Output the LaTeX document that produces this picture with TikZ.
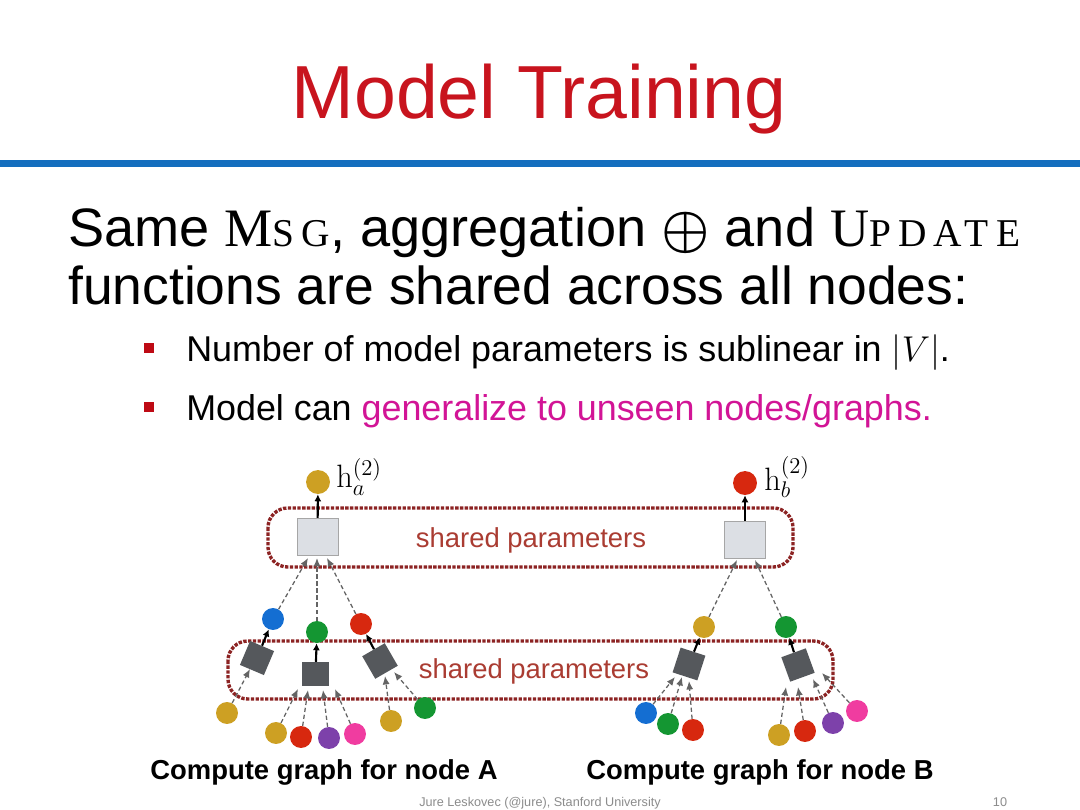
\documentclass[tikz,border=0pt]{standalone}
\usepackage{fix-cm}
\usepackage[no-math]{fontspec}
\setmainfont{Liberation Sans}
\newfontfamily\lmrsp[LetterSpace=18]{Liberation Serif}
\usetikzlibrary{arrows.meta,calc}
\definecolor{titlered}{RGB}{200,20,30}
\definecolor{blueline}{RGB}{20,110,190}
\definecolor{bullred}{RGB}{190,10,20}
\definecolor{magentatxt}{RGB}{210,20,150}
\definecolor{cgold}{RGB}{205,160,35}
\definecolor{cblue}{RGB}{20,110,210}
\definecolor{cgreen}{RGB}{20,150,50}
\definecolor{cred}{RGB}{215,40,15}
\definecolor{cpurple}{RGB}{125,65,170}
\definecolor{cpink}{RGB}{240,60,160}
\definecolor{boxgray}{RGB}{220,223,228}
\definecolor{darkbox}{RGB}{85,88,92}
\definecolor{sharedred}{RGB}{140,35,35}
\definecolor{labelred}{RGB}{170,60,50}
\definecolor{arrowgray}{RGB}{100,100,100}
\definecolor{footgray}{RGB}{140,140,140}
\begin{document}
\begin{tikzpicture}[x=0.025cm,y=-0.025cm,
  dot/.style={circle,inner sep=0pt,minimum size=15.6pt},
  topdot/.style={circle,inner sep=0pt,minimum size=17pt},
  updbox/.style={draw=gray!70,fill=boxgray,minimum width=29pt,minimum height=26pt,inner sep=0pt},
  aggbox/.style={fill=darkbox,minimum size=18.5pt,inner sep=0pt},
  msg/.style={densely dashed,draw=arrowgray,line width=0.9pt,-{Latex[length=6pt,width=5pt]}},
  updarrow/.style={line width=1.5pt,-{Latex[length=5pt,width=5pt]}},
  shared/.style={draw=sharedred,densely dotted,line width=2.4pt,rounded corners=14pt},
  lbl/.style={text=labelred,font=\fontsize{19.5}{20}\selectfont},
  bullet/.style={fill=bullred,minimum size=7.5pt,inner sep=0pt},
  hlabel/.style={anchor=west,inner sep=0pt,font=\fontsize{23}{23}\selectfont},
]
\useasboundingbox (0,0) rectangle (1080,810);
\fill[white] (0,0) rectangle (1080,810);

% title
\node[anchor=base,text=titlered,font=\fontsize{53.5}{54}\selectfont] (title) at (539,118) {Model Training};
\fill[blueline] (0,159.5) rectangle (1080,166.5);

% body text
\node[anchor=base west,inner sep=0pt,font=\fontsize{38.5}{39}\selectfont] (l1) at (68,246)
  {Same {\lmrsp M\fontsize{28}{28}\selectfont SG}, aggregation {\boldmath$\oplus$} and {\lmrsp U\fontsize{28}{28}\selectfont PDATE}};
\node[anchor=base west,inner sep=0pt,font=\fontsize{38}{38}\selectfont] (l2) at (68,304)
  {functions are shared across all nodes:};
\node[bullet] (b1) at (149,348) {};
\node[anchor=base west,inner sep=0pt,font=\fontsize{25.5}{26}\selectfont] (t1) at (186,361)
  {Number of model parameters is sublinear in $|V|$.};
\node[bullet] (b2) at (149,407) {};
\node[anchor=base west,inner sep=0pt,font=\fontsize{25.5}{26}\selectfont] (t2) at (186,420)
  {Model can \textcolor{magentatxt}{generalize to unseen nodes/graphs.}};

% shared parameter frames
\draw[shared] (268,508) rectangle (793,567);
\draw[shared] (228,641) rectangle (833,699);
\node[lbl] (sp1) at (531,540) {shared parameters};
\node[lbl] (sp2) at (534,671) {shared parameters};

% ---------- tree A ----------
\node[topdot,fill=cgold] (aTop) at (318,482) {};
\node[hlabel] (ha) at (336,477) {$\mathrm{h}_a^{(2)}$};
\node[updbox] (aUpd) at (317.5,536.5) {};
\draw[updarrow] (aUpd) -- (aTop);

\node[dot,fill=cblue] (aBlue) at (273,619) {};
\node[dot,fill=cgreen] (aGreen) at (317,632) {};
\node[dot,fill=cred] (aRed) at (361,624) {};
\coordinate (aU1) at (308,558);
\coordinate (aU2) at (317,558);
\coordinate (aU3) at (327,558);
\draw[msg] (aBlue) -- (aU1);
\draw[msg] (aGreen) -- (aU2);
\draw[msg] (aRed) -- (aU3);

\node[aggbox,rotate=-23] (aS1) at (257,658) {};
\node[aggbox,minimum width=19pt,minimum height=17pt] (aS2) at (315.5,674) {};
\node[aggbox,rotate=30] (aS3) at (380,661) {};
\draw[updarrow] (aS1) -- (aBlue);
\draw[updarrow] (aS2) -- (aGreen);
\draw[updarrow] (aS3) -- (aRed);

\node[dot,fill=cgold] (aL1) at (227,713) {};
\node[dot,fill=cgold] (aL2) at (276,733) {};
\node[dot,fill=cred] (aL3) at (301,737) {};
\node[dot,fill=cpurple] (aL4) at (329,738) {};
\node[dot,fill=cpink] (aL5) at (355,734) {};
\node[dot,fill=cgold] (aL6) at (391,721) {};
\node[dot,fill=cgreen] (aL7) at (425,708) {};
\coordinate (aE1) at (250,669);
\coordinate (aE2) at (298,689);
\coordinate (aE3) at (308,690);
\coordinate (aE4) at (323,690);
\coordinate (aE5) at (335,689);
\coordinate (aE6) at (385,676);
\coordinate (aE7) at (394,672);
\draw[msg] (aL1) -- (aE1);
\draw[msg] (aL2) -- (aE2);
\draw[msg] (aL3) -- (aE3);
\draw[msg] (aL4) -- (aE4);
\draw[msg] (aL5) -- (aE5);
\draw[msg] (aL6) -- (aE6);
\draw[msg] (aL7) -- (aE7);

% ---------- tree B ----------
\node[topdot,fill=cred] (bTop) at (745,483) {};
\node[hlabel] (hb) at (764,477) {$\mathrm{h}_b^{(2)}$};
\node[updbox] (bUpd) at (745,539.5) {};
\draw[updarrow] (bUpd) -- (bTop);

\node[dot,fill=cgold] (bGold) at (704,627) {};
\node[dot,fill=cgreen] (bGreen) at (786,627) {};
\coordinate (bU1) at (737,560);
\coordinate (bU2) at (755,560);
\draw[msg] (bGold) -- (bU1);
\draw[msg] (bGreen) -- (bU2);

\node[aggbox,rotate=-18] (bS1) at (689,664) {};
\node[aggbox,rotate=20] (bS2) at (798,665) {};
\draw[updarrow] (bS1) -- (bGold);
\draw[updarrow] (bS2) -- (bGreen);

\node[dot,fill=cblue] (bL1) at (646,713) {};
\node[dot,fill=cgreen] (bL2) at (668,724) {};
\node[dot,fill=cred] (bL3) at (693,730) {};
\node[dot,fill=cgold] (bL4) at (779,735) {};
\node[dot,fill=cred] (bL5) at (805,731) {};
\node[dot,fill=cpurple] (bL6) at (833,723) {};
\node[dot,fill=cpink] (bL7) at (857,711) {};
\coordinate (bE1) at (675,677);
\coordinate (bE2) at (682,677);
\coordinate (bE3) at (689,681);
\coordinate (bE4) at (786,687);
\coordinate (bE5) at (798,687);
\coordinate (bE6) at (813,679);
\coordinate (bE7) at (822,673);
\draw[msg] (bL1) -- (bE1);
\draw[msg] (bL2) -- (bE2);
\draw[msg] (bL3) -- (bE3);
\draw[msg] (bL4) -- (bE4);
\draw[msg] (bL5) -- (bE5);
\draw[msg] (bL6) -- (bE6);
\draw[msg] (bL7) -- (bE7);

% captions
\node[anchor=base,font=\bfseries\fontsize{19.5}{20}\selectfont] (capA) at (324,779) {Compute graph for node A};
\node[anchor=base,font=\bfseries\fontsize{19.5}{20}\selectfont] (capB) at (760,779) {Compute graph for node B};

% footer
\node[anchor=base,text=footgray,font=\fontsize{9}{9}\selectfont] (foot) at (540,806) {Jure Leskovec (@jure), Stanford University};
\node[anchor=base east,text=footgray,font=\fontsize{9}{9}\selectfont] (pg) at (1012,806) {10};
\end{tikzpicture}
\end{document}
